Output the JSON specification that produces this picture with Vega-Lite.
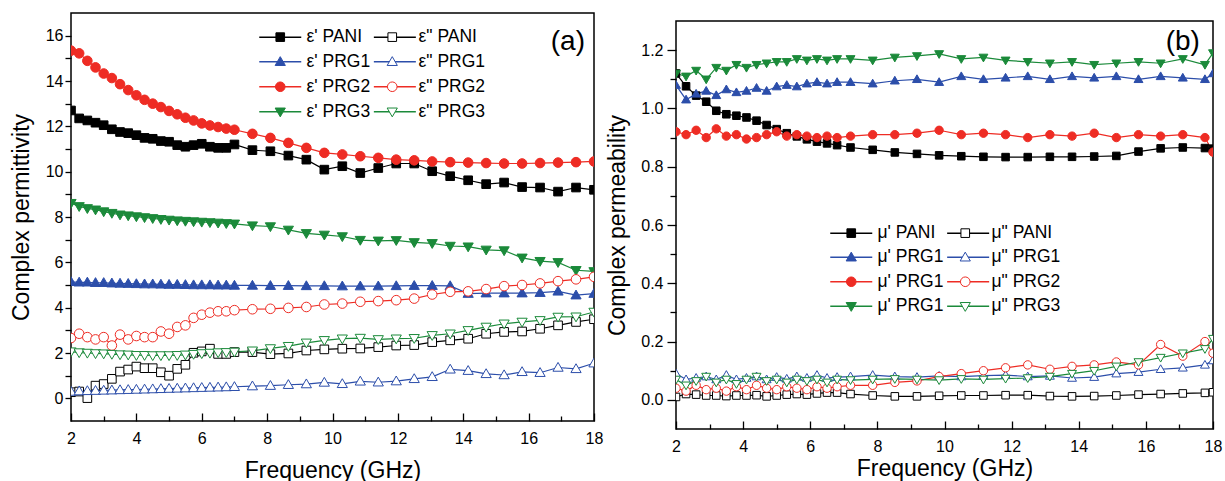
{
"$schema":"https://vega.github.io/schema/vega-lite/v6.json",
"background":"white",
"padding":{"left":9,"top":12,"right":5,"bottom":0},
"config":{
 "font":"Liberation Sans",
 "view":{"stroke":"black","strokeWidth":1.5},
 "axis":{"grid":false,"domain":false,"labelFontSize":16,"labelColor":"black","titleFontSize":23,"titleFontWeight":"normal","titleColor":"black","tickColor":"black","tickWidth":1.3,"labelFlush":false,"labelOverlap":false},
 "legend":{"labelFontSize":17.5,"labelColor":"black","padding":0}
},
"spacing":2,
"resolve":{"scale":{"color":"independent","stroke":"independent","fill":"independent","shape":"independent"}},
"hconcat":[
{
"width":523,"height":408,
"resolve":{"axis":{"x":"independent","y":"independent"}},
"layer":[
 {"data":{"name":"eps"},"mark":{"type":"line","strokeWidth":1.2,"clip":true},
  "encoding":{
   "x":{"field":"f","type":"quantitative","scale":{"domain":[2,18],"nice":false,"zero":false},
        "axis":{"orient":"bottom","title":"Frequency (GHz)","values":[2,4,6,8,10,12,14,16,18],"tickSize":-8,"labelPadding":17,"titlePadding":13}},
   "y":{"field":"v","type":"quantitative","scale":{"domain":[-1,17],"nice":false,"zero":false},
        "axis":{"orient":"left","title":"Complex permittivity","values":[0,1,2,3,4,5,6,7,8,9,10,11,12,13,14,15,16],"labelExpr":"datum.value % 2 == 0 ? datum.label : ''","tickSize":6,"labelPadding":2,"titlePadding":12}},
   "color":{"field":"s","type":"nominal","scale":{"domain":["ε' PANI","ε' PRG1","ε' PRG2","ε' PRG3","ε\" PANI","ε\" PRG1","ε\" PRG2","ε\" PRG3"],"range":["#000000","#2c4eaa","#ee2c24","#1b8a3a","#000000","#2c4eaa","#ee2c24","#1b8a3a"]},
     "legend":{"title":null,"orient":"none","legendX":188,"legendY":15,"columns":2,"columnPadding":63.6,"rowPadding":6,"symbolType":"M-3.5,0H3.5","symbolSize":144,"symbolStrokeWidth":1.5,"symbolOffset":12.5,"labelOffset":17.5,"labelExpr":"''"}}
  }},
 {"data":{"name":"eps"},"mark":{"type":"point","size":144,"strokeWidth":1,"opacity":1,"clip":true},
  "encoding":{
   "x":{"field":"f","type":"quantitative","axis":{"orient":"bottom","title":null,"values":[3,5,7,9,11,13,15,17],"tickSize":-5,"labels":false}},
   "y":{"field":"v","type":"quantitative","axis":null},
   "stroke":{"field":"s","type":"nominal","sort":null,"scale":{"range":["#000000","#2c4eaa","#ee2c24","#1b8a3a","#000000","#2c4eaa","#ee2c24","#1b8a3a"]}},
   "fill":{"field":"s","type":"nominal","sort":null,"scale":{"range":["#000000","#2c4eaa","#ee2c24","#1b8a3a","#ffffff","#ffffff","#ffffff","#ffffff"]}},
   "shape":{"field":"s","type":"nominal","sort":null,"scale":{"range":["M-0.72,-0.72H0.72V0.72H-0.72Z","M-0.85,0.62L0,-0.85L0.85,0.62Z","M-0.8,0A0.8,0.8,0,1,1,0.8,0A0.8,0.8,0,1,1,-0.8,0Z","M-0.85,-0.62L0,0.85L0.85,-0.62Z","M-0.72,-0.72H0.72V0.72H-0.72Z","M-0.85,0.62L0,-0.85L0.85,0.62Z","M-0.8,0A0.8,0.8,0,1,1,0.8,0A0.8,0.8,0,1,1,-0.8,0Z","M-0.85,-0.62L0,0.85L0.85,-0.62Z"]},
     "legend":{"title":null,"orient":"none","legendX":188,"legendY":15,"columns":2,"columnPadding":0,"rowPadding":6,"symbolSize":144,"symbolStrokeWidth":1,"symbolOffset":12.5,"labelOffset":17.5,"symbolOpacity":1}}
  }},
 {"data":{"values":[{"f":17.2,"v":15.7,"t":"(a)"}]},"mark":{"type":"text","fontSize":28,"align":"center","baseline":"middle","color":"black","font":"Liberation Sans"},
  "encoding":{"x":{"field":"f","type":"quantitative","axis":null},"y":{"field":"v","type":"quantitative","axis":null},"text":{"field":"t"}}}
]
},
{
"spacing":6,
"vconcat":[
{"width":10,"height":1,"data":{"values":[]},"mark":"text","encoding":{},"view":{"stroke":null}},
{
"width":537,"height":408,
"resolve":{"axis":{"x":"independent","y":"independent"}},
"layer":[
 {"data":{"name":"mu"},"mark":{"type":"line","strokeWidth":1.2,"clip":true},
  "encoding":{
   "x":{"field":"f","type":"quantitative","scale":{"domain":[2,18],"nice":false,"zero":false},
        "axis":{"orient":"bottom","title":"Frequency (GHz)","values":[2,4,6,8,10,12,14,16,18],"tickSize":-8,"labelPadding":17,"titlePadding":3}},
   "y":{"field":"v","type":"quantitative","scale":{"domain":[-0.1,1.3],"nice":false,"zero":false},
        "axis":{"orient":"left","title":"Complex permeability","values":[0,0.2,0.4,0.6,0.8,1.0,1.2],"format":".1f","tickSize":9,"labelPadding":4,"titlePadding":11}},
   "color":{"field":"s","type":"nominal","scale":{"domain":["μ' PANI","μ' PRG1","μ' PRG2","μ' PRG3","μ\" PANI","μ\" PRG1","μ\" PRG2","μ\" PRG3"],"range":["#000000","#2c4eaa","#ee2c24","#1b8a3a","#000000","#2c4eaa","#ee2c24","#1b8a3a"]},
     "legend":{"title":null,"orient":"none","legendX":154,"legendY":211,"columns":2,"columnPadding":65.9,"rowPadding":5.5,"symbolType":"M-3.5,0H3.5","symbolSize":144,"symbolStrokeWidth":1.5,"symbolOffset":12.5,"labelOffset":17.5,"labelExpr":"''"}}
  }},
 {"data":{"name":"mu"},"mark":{"type":"point","size":110,"strokeWidth":1,"opacity":1,"clip":true},
  "encoding":{
   "x":{"field":"f","type":"quantitative","axis":{"orient":"bottom","title":null,"values":[3,5,7,9,11,13,15,17],"tickSize":-5,"labels":false}},
   "y":{"field":"v","type":"quantitative","axis":{"orient":"left","title":null,"values":[0.1,0.3,0.5,0.7,0.9,1.1],"tickSize":6,"labels":false}},
   "stroke":{"field":"s","type":"nominal","sort":null,"scale":{"range":["#000000","#2c4eaa","#ee2c24","#1b8a3a","#000000","#2c4eaa","#ee2c24","#1b8a3a"]}},
   "fill":{"field":"s","type":"nominal","sort":null,"scale":{"range":["#000000","#2c4eaa","#ee2c24","#1b8a3a","#ffffff","#ffffff","#ffffff","#ffffff"]}},
   "shape":{"field":"s","type":"nominal","sort":null,"scale":{"range":["M-0.72,-0.72H0.72V0.72H-0.72Z","M-0.85,0.62L0,-0.85L0.85,0.62Z","M-0.8,0A0.8,0.8,0,1,1,0.8,0A0.8,0.8,0,1,1,-0.8,0Z","M-0.85,-0.62L0,0.85L0.85,-0.62Z","M-0.72,-0.72H0.72V0.72H-0.72Z","M-0.85,0.62L0,-0.85L0.85,0.62Z","M-0.8,0A0.8,0.8,0,1,1,0.8,0A0.8,0.8,0,1,1,-0.8,0Z","M-0.85,-0.62L0,0.85L0.85,-0.62Z"]},
     "legend":{"title":null,"orient":"none","legendX":154,"legendY":211,"columns":2,"columnPadding":0,"rowPadding":5.5,"symbolSize":144,"symbolStrokeWidth":1,"symbolOffset":12.5,"labelOffset":17.5,"symbolOpacity":1,
       "labelExpr":"datum.label == \"μ' PRG2\" || datum.label == \"μ' PRG3\" ? \"μ' PRG1\" : datum.label"}}
  }},
 {"data":{"values":[{"f":17.1,"v":1.227,"t":"(b)"}]},"mark":{"type":"text","fontSize":28,"align":"center","baseline":"middle","color":"black","font":"Liberation Sans"},
  "encoding":{"x":{"field":"f","type":"quantitative","axis":null},"y":{"field":"v","type":"quantitative","axis":null},"text":{"field":"t"}}}
]
}
]
}
],
"datasets":{
"eps":[
{"s":"ε' PANI","f":2,"v":12.7},{"s":"ε' PANI","f":2.25,"v":12.35},{"s":"ε' PANI","f":2.5,"v":12.26},{"s":"ε' PANI","f":2.75,"v":12.16},{"s":"ε' PANI","f":3,"v":12.05},{"s":"ε' PANI","f":3.25,"v":11.87},{"s":"ε' PANI","f":3.5,"v":11.75},{"s":"ε' PANI","f":3.75,"v":11.7},{"s":"ε' PANI","f":4,"v":11.61},{"s":"ε' PANI","f":4.25,"v":11.49},{"s":"ε' PANI","f":4.5,"v":11.45},{"s":"ε' PANI","f":4.75,"v":11.35},{"s":"ε' PANI","f":5,"v":11.32},{"s":"ε' PANI","f":5.25,"v":11.17},{"s":"ε' PANI","f":5.5,"v":11.1},{"s":"ε' PANI","f":5.75,"v":11.17},{"s":"ε' PANI","f":6,"v":11.23},{"s":"ε' PANI","f":6.25,"v":11.1},{"s":"ε' PANI","f":6.5,"v":11.05},{"s":"ε' PANI","f":6.75,"v":11.05},{"s":"ε' PANI","f":7,"v":11.2},{"s":"ε' PANI","f":7.55,"v":10.95},{"s":"ε' PANI","f":8.1,"v":10.9},{"s":"ε' PANI","f":8.65,"v":10.71},{"s":"ε' PANI","f":9.2,"v":10.53},{"s":"ε' PANI","f":9.75,"v":10.09},{"s":"ε' PANI","f":10.3,"v":10.24},{"s":"ε' PANI","f":10.85,"v":9.94},{"s":"ε' PANI","f":11.4,"v":10.16},{"s":"ε' PANI","f":11.95,"v":10.36},{"s":"ε' PANI","f":12.5,"v":10.36},{"s":"ε' PANI","f":13.05,"v":10.02},{"s":"ε' PANI","f":13.6,"v":9.8},{"s":"ε' PANI","f":14.15,"v":9.62},{"s":"ε' PANI","f":14.7,"v":9.45},{"s":"ε' PANI","f":15.25,"v":9.52},{"s":"ε' PANI","f":15.8,"v":9.32},{"s":"ε' PANI","f":16.35,"v":9.3},{"s":"ε' PANI","f":16.9,"v":9.12},{"s":"ε' PANI","f":17.45,"v":9.3},{"s":"ε' PANI","f":18,"v":9.2},
{"s":"ε' PRG1","f":2,"v":5.14},{"s":"ε' PRG1","f":2.25,"v":5.12},{"s":"ε' PRG1","f":2.5,"v":5.12},{"s":"ε' PRG1","f":2.75,"v":5.1},{"s":"ε' PRG1","f":3,"v":5.1},{"s":"ε' PRG1","f":3.25,"v":5.08},{"s":"ε' PRG1","f":3.5,"v":5.07},{"s":"ε' PRG1","f":3.75,"v":5.06},{"s":"ε' PRG1","f":4,"v":5.05},{"s":"ε' PRG1","f":4.25,"v":5.04},{"s":"ε' PRG1","f":4.5,"v":5.04},{"s":"ε' PRG1","f":4.75,"v":5.03},{"s":"ε' PRG1","f":5,"v":5.02},{"s":"ε' PRG1","f":5.25,"v":5.02},{"s":"ε' PRG1","f":5.5,"v":5.01},{"s":"ε' PRG1","f":5.75,"v":5.0},{"s":"ε' PRG1","f":6,"v":5.0},{"s":"ε' PRG1","f":6.25,"v":5.0},{"s":"ε' PRG1","f":6.5,"v":4.99},{"s":"ε' PRG1","f":6.75,"v":4.99},{"s":"ε' PRG1","f":7,"v":4.98},{"s":"ε' PRG1","f":7.55,"v":4.98},{"s":"ε' PRG1","f":8.1,"v":4.97},{"s":"ε' PRG1","f":8.65,"v":4.97},{"s":"ε' PRG1","f":9.2,"v":4.96},{"s":"ε' PRG1","f":9.75,"v":4.96},{"s":"ε' PRG1","f":10.3,"v":4.95},{"s":"ε' PRG1","f":10.85,"v":4.95},{"s":"ε' PRG1","f":11.4,"v":4.95},{"s":"ε' PRG1","f":11.95,"v":4.96},{"s":"ε' PRG1","f":12.5,"v":4.97},{"s":"ε' PRG1","f":13.05,"v":4.97},{"s":"ε' PRG1","f":13.6,"v":4.96},{"s":"ε' PRG1","f":14.15,"v":4.62},{"s":"ε' PRG1","f":14.7,"v":4.64},{"s":"ε' PRG1","f":15.25,"v":4.64},{"s":"ε' PRG1","f":15.8,"v":4.64},{"s":"ε' PRG1","f":16.35,"v":4.66},{"s":"ε' PRG1","f":16.9,"v":4.72},{"s":"ε' PRG1","f":17.45,"v":4.55},{"s":"ε' PRG1","f":18,"v":4.62},
{"s":"ε' PRG2","f":2,"v":15.34},{"s":"ε' PRG2","f":2.25,"v":15.22},{"s":"ε' PRG2","f":2.5,"v":14.89},{"s":"ε' PRG2","f":2.75,"v":14.6},{"s":"ε' PRG2","f":3,"v":14.33},{"s":"ε' PRG2","f":3.25,"v":14.13},{"s":"ε' PRG2","f":3.5,"v":13.86},{"s":"ε' PRG2","f":3.75,"v":13.6},{"s":"ε' PRG2","f":4,"v":13.37},{"s":"ε' PRG2","f":4.25,"v":13.17},{"s":"ε' PRG2","f":4.5,"v":13.0},{"s":"ε' PRG2","f":4.75,"v":12.85},{"s":"ε' PRG2","f":5,"v":12.68},{"s":"ε' PRG2","f":5.25,"v":12.53},{"s":"ε' PRG2","f":5.5,"v":12.38},{"s":"ε' PRG2","f":5.75,"v":12.26},{"s":"ε' PRG2","f":6,"v":12.13},{"s":"ε' PRG2","f":6.25,"v":12.04},{"s":"ε' PRG2","f":6.5,"v":11.97},{"s":"ε' PRG2","f":6.75,"v":11.9},{"s":"ε' PRG2","f":7,"v":11.85},{"s":"ε' PRG2","f":7.55,"v":11.67},{"s":"ε' PRG2","f":8.1,"v":11.49},{"s":"ε' PRG2","f":8.65,"v":11.27},{"s":"ε' PRG2","f":9.2,"v":11.05},{"s":"ε' PRG2","f":9.75,"v":10.83},{"s":"ε' PRG2","f":10.3,"v":10.76},{"s":"ε' PRG2","f":10.85,"v":10.68},{"s":"ε' PRG2","f":11.4,"v":10.61},{"s":"ε' PRG2","f":11.95,"v":10.53},{"s":"ε' PRG2","f":12.5,"v":10.5},{"s":"ε' PRG2","f":13.05,"v":10.45},{"s":"ε' PRG2","f":13.6,"v":10.42},{"s":"ε' PRG2","f":14.15,"v":10.4},{"s":"ε' PRG2","f":14.7,"v":10.38},{"s":"ε' PRG2","f":15.25,"v":10.36},{"s":"ε' PRG2","f":15.8,"v":10.36},{"s":"ε' PRG2","f":16.35,"v":10.38},{"s":"ε' PRG2","f":16.9,"v":10.4},{"s":"ε' PRG2","f":17.45,"v":10.42},{"s":"ε' PRG2","f":18,"v":10.45},
{"s":"ε' PRG3","f":2,"v":8.61},{"s":"ε' PRG3","f":2.25,"v":8.47},{"s":"ε' PRG3","f":2.5,"v":8.38},{"s":"ε' PRG3","f":2.75,"v":8.32},{"s":"ε' PRG3","f":3,"v":8.24},{"s":"ε' PRG3","f":3.25,"v":8.17},{"s":"ε' PRG3","f":3.5,"v":8.1},{"s":"ε' PRG3","f":3.75,"v":8.06},{"s":"ε' PRG3","f":4,"v":8.02},{"s":"ε' PRG3","f":4.25,"v":7.98},{"s":"ε' PRG3","f":4.5,"v":7.94},{"s":"ε' PRG3","f":4.75,"v":7.9},{"s":"ε' PRG3","f":5,"v":7.87},{"s":"ε' PRG3","f":5.25,"v":7.84},{"s":"ε' PRG3","f":5.5,"v":7.82},{"s":"ε' PRG3","f":5.75,"v":7.8},{"s":"ε' PRG3","f":6,"v":7.78},{"s":"ε' PRG3","f":6.25,"v":7.76},{"s":"ε' PRG3","f":6.5,"v":7.74},{"s":"ε' PRG3","f":6.75,"v":7.72},{"s":"ε' PRG3","f":7,"v":7.7},{"s":"ε' PRG3","f":7.55,"v":7.62},{"s":"ε' PRG3","f":8.1,"v":7.58},{"s":"ε' PRG3","f":8.65,"v":7.43},{"s":"ε' PRG3","f":9.2,"v":7.28},{"s":"ε' PRG3","f":9.75,"v":7.21},{"s":"ε' PRG3","f":10.3,"v":7.14},{"s":"ε' PRG3","f":10.85,"v":6.98},{"s":"ε' PRG3","f":11.4,"v":6.95},{"s":"ε' PRG3","f":11.95,"v":6.97},{"s":"ε' PRG3","f":12.5,"v":6.88},{"s":"ε' PRG3","f":13.05,"v":6.84},{"s":"ε' PRG3","f":13.6,"v":6.72},{"s":"ε' PRG3","f":14.15,"v":6.69},{"s":"ε' PRG3","f":14.7,"v":6.55},{"s":"ε' PRG3","f":15.25,"v":6.52},{"s":"ε' PRG3","f":15.8,"v":6.2},{"s":"ε' PRG3","f":16.35,"v":6.05},{"s":"ε' PRG3","f":16.9,"v":6.0},{"s":"ε' PRG3","f":17.45,"v":5.65},{"s":"ε' PRG3","f":18,"v":5.6},
{"s":"ε\" PANI","f":2,"v":0.27},{"s":"ε\" PANI","f":2.25,"v":0.3},{"s":"ε\" PANI","f":2.5,"v":0.01},{"s":"ε\" PANI","f":2.75,"v":0.56},{"s":"ε\" PANI","f":3,"v":0.63},{"s":"ε\" PANI","f":3.25,"v":0.86},{"s":"ε\" PANI","f":3.5,"v":1.18},{"s":"ε\" PANI","f":3.75,"v":1.27},{"s":"ε\" PANI","f":4,"v":1.4},{"s":"ε\" PANI","f":4.25,"v":1.33},{"s":"ε\" PANI","f":4.5,"v":1.33},{"s":"ε\" PANI","f":4.75,"v":1.15},{"s":"ε\" PANI","f":5,"v":1.0},{"s":"ε\" PANI","f":5.25,"v":1.3},{"s":"ε\" PANI","f":5.5,"v":1.48},{"s":"ε\" PANI","f":5.75,"v":2.01},{"s":"ε\" PANI","f":6,"v":2.07},{"s":"ε\" PANI","f":6.25,"v":2.19},{"s":"ε\" PANI","f":6.5,"v":1.96},{"s":"ε\" PANI","f":6.75,"v":1.96},{"s":"ε\" PANI","f":7,"v":2.04},{"s":"ε\" PANI","f":7.55,"v":2.04},{"s":"ε\" PANI","f":8.1,"v":1.95},{"s":"ε\" PANI","f":8.65,"v":1.98},{"s":"ε\" PANI","f":9.2,"v":2.11},{"s":"ε\" PANI","f":9.75,"v":2.16},{"s":"ε\" PANI","f":10.3,"v":2.19},{"s":"ε\" PANI","f":10.85,"v":2.2},{"s":"ε\" PANI","f":11.4,"v":2.26},{"s":"ε\" PANI","f":11.95,"v":2.33},{"s":"ε\" PANI","f":12.5,"v":2.35},{"s":"ε\" PANI","f":13.05,"v":2.48},{"s":"ε\" PANI","f":13.6,"v":2.56},{"s":"ε\" PANI","f":14.15,"v":2.63},{"s":"ε\" PANI","f":14.7,"v":2.85},{"s":"ε\" PANI","f":15.25,"v":2.93},{"s":"ε\" PANI","f":15.8,"v":2.95},{"s":"ε\" PANI","f":16.35,"v":3.07},{"s":"ε\" PANI","f":16.9,"v":3.22},{"s":"ε\" PANI","f":17.45,"v":3.37},{"s":"ε\" PANI","f":18,"v":3.49},
{"s":"ε\" PRG1","f":2,"v":0.3},{"s":"ε\" PRG1","f":2.25,"v":0.32},{"s":"ε\" PRG1","f":2.5,"v":0.33},{"s":"ε\" PRG1","f":2.75,"v":0.34},{"s":"ε\" PRG1","f":3,"v":0.35},{"s":"ε\" PRG1","f":3.25,"v":0.36},{"s":"ε\" PRG1","f":3.5,"v":0.37},{"s":"ε\" PRG1","f":3.75,"v":0.38},{"s":"ε\" PRG1","f":4,"v":0.39},{"s":"ε\" PRG1","f":4.25,"v":0.4},{"s":"ε\" PRG1","f":4.5,"v":0.41},{"s":"ε\" PRG1","f":4.75,"v":0.42},{"s":"ε\" PRG1","f":5,"v":0.43},{"s":"ε\" PRG1","f":5.25,"v":0.44},{"s":"ε\" PRG1","f":5.5,"v":0.45},{"s":"ε\" PRG1","f":5.75,"v":0.46},{"s":"ε\" PRG1","f":6,"v":0.47},{"s":"ε\" PRG1","f":6.25,"v":0.48},{"s":"ε\" PRG1","f":6.5,"v":0.49},{"s":"ε\" PRG1","f":6.75,"v":0.5},{"s":"ε\" PRG1","f":7,"v":0.51},{"s":"ε\" PRG1","f":7.55,"v":0.54},{"s":"ε\" PRG1","f":8.1,"v":0.56},{"s":"ε\" PRG1","f":8.65,"v":0.6},{"s":"ε\" PRG1","f":9.2,"v":0.63},{"s":"ε\" PRG1","f":9.75,"v":0.7},{"s":"ε\" PRG1","f":10.3,"v":0.64},{"s":"ε\" PRG1","f":10.85,"v":0.75},{"s":"ε\" PRG1","f":11.4,"v":0.71},{"s":"ε\" PRG1","f":11.95,"v":0.76},{"s":"ε\" PRG1","f":12.5,"v":0.86},{"s":"ε\" PRG1","f":13.05,"v":0.95},{"s":"ε\" PRG1","f":13.6,"v":1.28},{"s":"ε\" PRG1","f":14.15,"v":1.22},{"s":"ε\" PRG1","f":14.7,"v":1.08},{"s":"ε\" PRG1","f":15.25,"v":1.03},{"s":"ε\" PRG1","f":15.8,"v":1.17},{"s":"ε\" PRG1","f":16.35,"v":1.13},{"s":"ε\" PRG1","f":16.9,"v":1.36},{"s":"ε\" PRG1","f":17.45,"v":1.3},{"s":"ε\" PRG1","f":18,"v":1.55},
{"s":"ε\" PRG2","f":2,"v":2.66},{"s":"ε\" PRG2","f":2.25,"v":2.85},{"s":"ε\" PRG2","f":2.5,"v":2.7},{"s":"ε\" PRG2","f":2.75,"v":2.6},{"s":"ε\" PRG2","f":3,"v":2.7},{"s":"ε\" PRG2","f":3.25,"v":2.33},{"s":"ε\" PRG2","f":3.5,"v":2.81},{"s":"ε\" PRG2","f":3.75,"v":2.6},{"s":"ε\" PRG2","f":4,"v":2.75},{"s":"ε\" PRG2","f":4.25,"v":2.7},{"s":"ε\" PRG2","f":4.5,"v":2.7},{"s":"ε\" PRG2","f":4.75,"v":2.95},{"s":"ε\" PRG2","f":5,"v":2.85},{"s":"ε\" PRG2","f":5.25,"v":3.15},{"s":"ε\" PRG2","f":5.5,"v":3.22},{"s":"ε\" PRG2","f":5.75,"v":3.55},{"s":"ε\" PRG2","f":6,"v":3.69},{"s":"ε\" PRG2","f":6.25,"v":3.78},{"s":"ε\" PRG2","f":6.5,"v":3.84},{"s":"ε\" PRG2","f":6.75,"v":3.84},{"s":"ε\" PRG2","f":7,"v":3.89},{"s":"ε\" PRG2","f":7.55,"v":3.93},{"s":"ε\" PRG2","f":8.1,"v":3.95},{"s":"ε\" PRG2","f":8.65,"v":3.99},{"s":"ε\" PRG2","f":9.2,"v":4.03},{"s":"ε\" PRG2","f":9.75,"v":4.14},{"s":"ε\" PRG2","f":10.3,"v":4.18},{"s":"ε\" PRG2","f":10.85,"v":4.26},{"s":"ε\" PRG2","f":11.4,"v":4.29},{"s":"ε\" PRG2","f":11.95,"v":4.33},{"s":"ε\" PRG2","f":12.5,"v":4.4},{"s":"ε\" PRG2","f":13.05,"v":4.58},{"s":"ε\" PRG2","f":13.6,"v":4.7},{"s":"ε\" PRG2","f":14.15,"v":4.72},{"s":"ε\" PRG2","f":14.7,"v":4.82},{"s":"ε\" PRG2","f":15.25,"v":4.95},{"s":"ε\" PRG2","f":15.8,"v":5.0},{"s":"ε\" PRG2","f":16.35,"v":5.07},{"s":"ε\" PRG2","f":16.9,"v":5.17},{"s":"ε\" PRG2","f":17.45,"v":5.25},{"s":"ε\" PRG2","f":18,"v":5.36},
{"s":"ε\" PRG3","f":2,"v":2.06},{"s":"ε\" PRG3","f":2.25,"v":2.02},{"s":"ε\" PRG3","f":2.5,"v":2.0},{"s":"ε\" PRG3","f":2.75,"v":1.98},{"s":"ε\" PRG3","f":3,"v":1.97},{"s":"ε\" PRG3","f":3.25,"v":1.95},{"s":"ε\" PRG3","f":3.5,"v":1.93},{"s":"ε\" PRG3","f":3.75,"v":1.92},{"s":"ε\" PRG3","f":4,"v":1.9},{"s":"ε\" PRG3","f":4.25,"v":1.9},{"s":"ε\" PRG3","f":4.5,"v":1.89},{"s":"ε\" PRG3","f":4.75,"v":1.89},{"s":"ε\" PRG3","f":5,"v":1.89},{"s":"ε\" PRG3","f":5.25,"v":1.9},{"s":"ε\" PRG3","f":5.5,"v":1.92},{"s":"ε\" PRG3","f":5.75,"v":1.95},{"s":"ε\" PRG3","f":6,"v":1.98},{"s":"ε\" PRG3","f":6.25,"v":2.0},{"s":"ε\" PRG3","f":6.5,"v":2.02},{"s":"ε\" PRG3","f":6.75,"v":2.03},{"s":"ε\" PRG3","f":7,"v":2.05},{"s":"ε\" PRG3","f":7.55,"v":2.1},{"s":"ε\" PRG3","f":8.1,"v":2.2},{"s":"ε\" PRG3","f":8.65,"v":2.3},{"s":"ε\" PRG3","f":9.2,"v":2.45},{"s":"ε\" PRG3","f":9.75,"v":2.56},{"s":"ε\" PRG3","f":10.3,"v":2.63},{"s":"ε\" PRG3","f":10.85,"v":2.66},{"s":"ε\" PRG3","f":11.4,"v":2.6},{"s":"ε\" PRG3","f":11.95,"v":2.63},{"s":"ε\" PRG3","f":12.5,"v":2.65},{"s":"ε\" PRG3","f":13.05,"v":2.78},{"s":"ε\" PRG3","f":13.6,"v":2.85},{"s":"ε\" PRG3","f":14.15,"v":3.0},{"s":"ε\" PRG3","f":14.7,"v":3.15},{"s":"ε\" PRG3","f":15.25,"v":3.29},{"s":"ε\" PRG3","f":15.8,"v":3.37},{"s":"ε\" PRG3","f":16.35,"v":3.44},{"s":"ε\" PRG3","f":16.9,"v":3.59},{"s":"ε\" PRG3","f":17.45,"v":3.6},{"s":"ε\" PRG3","f":18,"v":3.81}
],
"mu":[
{"s":"μ' PANI","f":2,"v":1.12},{"s":"μ' PANI","f":2.3,"v":1.076},{"s":"μ' PANI","f":2.6,"v":1.044},{"s":"μ' PANI","f":2.9,"v":1.023},{"s":"μ' PANI","f":3.2,"v":0.992},{"s":"μ' PANI","f":3.5,"v":0.98},{"s":"μ' PANI","f":3.8,"v":0.975},{"s":"μ' PANI","f":4.1,"v":0.969},{"s":"μ' PANI","f":4.4,"v":0.958},{"s":"μ' PANI","f":4.7,"v":0.943},{"s":"μ' PANI","f":5,"v":0.929},{"s":"μ' PANI","f":5.3,"v":0.915},{"s":"μ' PANI","f":5.6,"v":0.904},{"s":"μ' PANI","f":5.9,"v":0.894},{"s":"μ' PANI","f":6.2,"v":0.886},{"s":"μ' PANI","f":6.5,"v":0.88},{"s":"μ' PANI","f":6.8,"v":0.874},{"s":"μ' PANI","f":7.2,"v":0.866},{"s":"μ' PANI","f":7.86,"v":0.858},{"s":"μ' PANI","f":8.52,"v":0.849},{"s":"μ' PANI","f":9.18,"v":0.844},{"s":"μ' PANI","f":9.84,"v":0.839},{"s":"μ' PANI","f":10.5,"v":0.836},{"s":"μ' PANI","f":11.16,"v":0.834},{"s":"μ' PANI","f":11.82,"v":0.833},{"s":"μ' PANI","f":12.48,"v":0.833},{"s":"μ' PANI","f":13.14,"v":0.834},{"s":"μ' PANI","f":13.8,"v":0.834},{"s":"μ' PANI","f":14.46,"v":0.835},{"s":"μ' PANI","f":15.12,"v":0.837},{"s":"μ' PANI","f":15.78,"v":0.852},{"s":"μ' PANI","f":16.44,"v":0.863},{"s":"μ' PANI","f":17.1,"v":0.866},{"s":"μ' PANI","f":17.76,"v":0.864},{"s":"μ' PANI","f":18,"v":0.862},
{"s":"μ' PRG1","f":2,"v":1.08},{"s":"μ' PRG1","f":2.3,"v":1.03},{"s":"μ' PRG1","f":2.6,"v":1.05},{"s":"μ' PRG1","f":2.9,"v":1.06},{"s":"μ' PRG1","f":3.2,"v":1.045},{"s":"μ' PRG1","f":3.5,"v":1.065},{"s":"μ' PRG1","f":3.8,"v":1.055},{"s":"μ' PRG1","f":4.1,"v":1.06},{"s":"μ' PRG1","f":4.4,"v":1.07},{"s":"μ' PRG1","f":4.7,"v":1.06},{"s":"μ' PRG1","f":5,"v":1.075},{"s":"μ' PRG1","f":5.3,"v":1.08},{"s":"μ' PRG1","f":5.6,"v":1.075},{"s":"μ' PRG1","f":5.9,"v":1.085},{"s":"μ' PRG1","f":6.2,"v":1.09},{"s":"μ' PRG1","f":6.5,"v":1.085},{"s":"μ' PRG1","f":6.8,"v":1.09},{"s":"μ' PRG1","f":7.2,"v":1.09},{"s":"μ' PRG1","f":7.86,"v":1.085},{"s":"μ' PRG1","f":8.52,"v":1.095},{"s":"μ' PRG1","f":9.18,"v":1.1},{"s":"μ' PRG1","f":9.84,"v":1.09},{"s":"μ' PRG1","f":10.5,"v":1.11},{"s":"μ' PRG1","f":11.16,"v":1.1},{"s":"μ' PRG1","f":11.82,"v":1.105},{"s":"μ' PRG1","f":12.48,"v":1.11},{"s":"μ' PRG1","f":13.14,"v":1.1},{"s":"μ' PRG1","f":13.8,"v":1.11},{"s":"μ' PRG1","f":14.46,"v":1.105},{"s":"μ' PRG1","f":15.12,"v":1.11},{"s":"μ' PRG1","f":15.78,"v":1.1},{"s":"μ' PRG1","f":16.44,"v":1.11},{"s":"μ' PRG1","f":17.1,"v":1.105},{"s":"μ' PRG1","f":17.76,"v":1.1},{"s":"μ' PRG1","f":18,"v":1.12},
{"s":"μ' PRG2","f":2,"v":0.92},{"s":"μ' PRG2","f":2.3,"v":0.91},{"s":"μ' PRG2","f":2.6,"v":0.925},{"s":"μ' PRG2","f":2.9,"v":0.9},{"s":"μ' PRG2","f":3.2,"v":0.93},{"s":"μ' PRG2","f":3.5,"v":0.905},{"s":"μ' PRG2","f":3.8,"v":0.91},{"s":"μ' PRG2","f":4.1,"v":0.895},{"s":"μ' PRG2","f":4.4,"v":0.9},{"s":"μ' PRG2","f":4.7,"v":0.91},{"s":"μ' PRG2","f":5,"v":0.92},{"s":"μ' PRG2","f":5.3,"v":0.905},{"s":"μ' PRG2","f":5.6,"v":0.91},{"s":"μ' PRG2","f":5.9,"v":0.905},{"s":"μ' PRG2","f":6.2,"v":0.9},{"s":"μ' PRG2","f":6.5,"v":0.905},{"s":"μ' PRG2","f":6.8,"v":0.9},{"s":"μ' PRG2","f":7.2,"v":0.905},{"s":"μ' PRG2","f":7.86,"v":0.91},{"s":"μ' PRG2","f":8.52,"v":0.91},{"s":"μ' PRG2","f":9.18,"v":0.915},{"s":"μ' PRG2","f":9.84,"v":0.925},{"s":"μ' PRG2","f":10.5,"v":0.91},{"s":"μ' PRG2","f":11.16,"v":0.915},{"s":"μ' PRG2","f":11.82,"v":0.91},{"s":"μ' PRG2","f":12.48,"v":0.9},{"s":"μ' PRG2","f":13.14,"v":0.91},{"s":"μ' PRG2","f":13.8,"v":0.905},{"s":"μ' PRG2","f":14.46,"v":0.915},{"s":"μ' PRG2","f":15.12,"v":0.9},{"s":"μ' PRG2","f":15.78,"v":0.91},{"s":"μ' PRG2","f":16.44,"v":0.905},{"s":"μ' PRG2","f":17.1,"v":0.91},{"s":"μ' PRG2","f":17.76,"v":0.9},{"s":"μ' PRG2","f":18,"v":0.85},
{"s":"μ' PRG3","f":2,"v":1.12},{"s":"μ' PRG3","f":2.3,"v":1.11},{"s":"μ' PRG3","f":2.6,"v":1.13},{"s":"μ' PRG3","f":2.9,"v":1.1},{"s":"μ' PRG3","f":3.2,"v":1.14},{"s":"μ' PRG3","f":3.5,"v":1.13},{"s":"μ' PRG3","f":3.8,"v":1.15},{"s":"μ' PRG3","f":4.1,"v":1.14},{"s":"μ' PRG3","f":4.4,"v":1.15},{"s":"μ' PRG3","f":4.7,"v":1.155},{"s":"μ' PRG3","f":5,"v":1.16},{"s":"μ' PRG3","f":5.3,"v":1.16},{"s":"μ' PRG3","f":5.6,"v":1.17},{"s":"μ' PRG3","f":5.9,"v":1.165},{"s":"μ' PRG3","f":6.2,"v":1.17},{"s":"μ' PRG3","f":6.5,"v":1.165},{"s":"μ' PRG3","f":6.8,"v":1.17},{"s":"μ' PRG3","f":7.2,"v":1.17},{"s":"μ' PRG3","f":7.86,"v":1.165},{"s":"μ' PRG3","f":8.52,"v":1.175},{"s":"μ' PRG3","f":9.18,"v":1.18},{"s":"μ' PRG3","f":9.84,"v":1.187},{"s":"μ' PRG3","f":10.5,"v":1.17},{"s":"μ' PRG3","f":11.16,"v":1.175},{"s":"μ' PRG3","f":11.82,"v":1.165},{"s":"μ' PRG3","f":12.48,"v":1.16},{"s":"μ' PRG3","f":13.14,"v":1.155},{"s":"μ' PRG3","f":13.8,"v":1.16},{"s":"μ' PRG3","f":14.46,"v":1.15},{"s":"μ' PRG3","f":15.12,"v":1.155},{"s":"μ' PRG3","f":15.78,"v":1.16},{"s":"μ' PRG3","f":16.44,"v":1.155},{"s":"μ' PRG3","f":17.1,"v":1.17},{"s":"μ' PRG3","f":17.76,"v":1.15},{"s":"μ' PRG3","f":18,"v":1.19},
{"s":"μ\" PANI","f":2,"v":0.01},{"s":"μ\" PANI","f":2.3,"v":0.02},{"s":"μ\" PANI","f":2.6,"v":0.018},{"s":"μ\" PANI","f":2.9,"v":0.015},{"s":"μ\" PANI","f":3.2,"v":0.015},{"s":"μ\" PANI","f":3.5,"v":0.013},{"s":"μ\" PANI","f":3.8,"v":0.015},{"s":"μ\" PANI","f":4.1,"v":0.015},{"s":"μ\" PANI","f":4.4,"v":0.016},{"s":"μ\" PANI","f":4.7,"v":0.012},{"s":"μ\" PANI","f":5,"v":0.015},{"s":"μ\" PANI","f":5.3,"v":0.018},{"s":"μ\" PANI","f":5.6,"v":0.02},{"s":"μ\" PANI","f":5.9,"v":0.018},{"s":"μ\" PANI","f":6.2,"v":0.022},{"s":"μ\" PANI","f":6.5,"v":0.025},{"s":"μ\" PANI","f":6.8,"v":0.025},{"s":"μ\" PANI","f":7.2,"v":0.02},{"s":"μ\" PANI","f":7.86,"v":0.015},{"s":"μ\" PANI","f":8.52,"v":0.012},{"s":"μ\" PANI","f":9.18,"v":0.012},{"s":"μ\" PANI","f":9.84,"v":0.014},{"s":"μ\" PANI","f":10.5,"v":0.015},{"s":"μ\" PANI","f":11.16,"v":0.015},{"s":"μ\" PANI","f":11.82,"v":0.016},{"s":"μ\" PANI","f":12.48,"v":0.016},{"s":"μ\" PANI","f":13.14,"v":0.013},{"s":"μ\" PANI","f":13.8,"v":0.012},{"s":"μ\" PANI","f":14.46,"v":0.013},{"s":"μ\" PANI","f":15.12,"v":0.015},{"s":"μ\" PANI","f":15.78,"v":0.018},{"s":"μ\" PANI","f":16.44,"v":0.02},{"s":"μ\" PANI","f":17.1,"v":0.022},{"s":"μ\" PANI","f":17.76,"v":0.024},{"s":"μ\" PANI","f":18,"v":0.026},
{"s":"μ\" PRG1","f":2,"v":0.09},{"s":"μ\" PRG1","f":2.3,"v":0.07},{"s":"μ\" PRG1","f":2.6,"v":0.075},{"s":"μ\" PRG1","f":2.9,"v":0.08},{"s":"μ\" PRG1","f":3.2,"v":0.07},{"s":"μ\" PRG1","f":3.5,"v":0.085},{"s":"μ\" PRG1","f":3.8,"v":0.07},{"s":"μ\" PRG1","f":4.1,"v":0.075},{"s":"μ\" PRG1","f":4.4,"v":0.08},{"s":"μ\" PRG1","f":4.7,"v":0.07},{"s":"μ\" PRG1","f":5,"v":0.078},{"s":"μ\" PRG1","f":5.3,"v":0.072},{"s":"μ\" PRG1","f":5.6,"v":0.08},{"s":"μ\" PRG1","f":5.9,"v":0.075},{"s":"μ\" PRG1","f":6.2,"v":0.085},{"s":"μ\" PRG1","f":6.5,"v":0.075},{"s":"μ\" PRG1","f":6.8,"v":0.078},{"s":"μ\" PRG1","f":7.2,"v":0.08},{"s":"μ\" PRG1","f":7.86,"v":0.085},{"s":"μ\" PRG1","f":8.52,"v":0.08},{"s":"μ\" PRG1","f":9.18,"v":0.078},{"s":"μ\" PRG1","f":9.84,"v":0.082},{"s":"μ\" PRG1","f":10.5,"v":0.08},{"s":"μ\" PRG1","f":11.16,"v":0.083},{"s":"μ\" PRG1","f":11.82,"v":0.085},{"s":"μ\" PRG1","f":12.48,"v":0.08},{"s":"μ\" PRG1","f":13.14,"v":0.082},{"s":"μ\" PRG1","f":13.8,"v":0.075},{"s":"μ\" PRG1","f":14.46,"v":0.078},{"s":"μ\" PRG1","f":15.12,"v":0.09},{"s":"μ\" PRG1","f":15.78,"v":0.095},{"s":"μ\" PRG1","f":16.44,"v":0.105},{"s":"μ\" PRG1","f":17.1,"v":0.11},{"s":"μ\" PRG1","f":17.76,"v":0.12},{"s":"μ\" PRG1","f":18,"v":0.135},
{"s":"μ\" PRG2","f":2,"v":0.04},{"s":"μ\" PRG2","f":2.3,"v":0.03},{"s":"μ\" PRG2","f":2.6,"v":0.05},{"s":"μ\" PRG2","f":2.9,"v":0.035},{"s":"μ\" PRG2","f":3.2,"v":0.04},{"s":"μ\" PRG2","f":3.5,"v":0.03},{"s":"μ\" PRG2","f":3.8,"v":0.045},{"s":"μ\" PRG2","f":4.1,"v":0.035},{"s":"μ\" PRG2","f":4.4,"v":0.05},{"s":"μ\" PRG2","f":4.7,"v":0.04},{"s":"μ\" PRG2","f":5,"v":0.035},{"s":"μ\" PRG2","f":5.3,"v":0.045},{"s":"μ\" PRG2","f":5.6,"v":0.04},{"s":"μ\" PRG2","f":5.9,"v":0.035},{"s":"μ\" PRG2","f":6.2,"v":0.045},{"s":"μ\" PRG2","f":6.5,"v":0.04},{"s":"μ\" PRG2","f":6.8,"v":0.045},{"s":"μ\" PRG2","f":7.2,"v":0.05},{"s":"μ\" PRG2","f":7.86,"v":0.05},{"s":"μ\" PRG2","f":8.52,"v":0.06},{"s":"μ\" PRG2","f":9.18,"v":0.065},{"s":"μ\" PRG2","f":9.84,"v":0.08},{"s":"μ\" PRG2","f":10.5,"v":0.09},{"s":"μ\" PRG2","f":11.16,"v":0.1},{"s":"μ\" PRG2","f":11.82,"v":0.11},{"s":"μ\" PRG2","f":12.48,"v":0.12},{"s":"μ\" PRG2","f":13.14,"v":0.105},{"s":"μ\" PRG2","f":13.8,"v":0.115},{"s":"μ\" PRG2","f":14.46,"v":0.12},{"s":"μ\" PRG2","f":15.12,"v":0.13},{"s":"μ\" PRG2","f":15.78,"v":0.12},{"s":"μ\" PRG2","f":16.44,"v":0.19},{"s":"μ\" PRG2","f":17.1,"v":0.15},{"s":"μ\" PRG2","f":17.76,"v":0.2},{"s":"μ\" PRG2","f":18,"v":0.16},
{"s":"μ\" PRG3","f":2,"v":0.07},{"s":"μ\" PRG3","f":2.3,"v":0.05},{"s":"μ\" PRG3","f":2.6,"v":0.065},{"s":"μ\" PRG3","f":2.9,"v":0.08},{"s":"μ\" PRG3","f":3.2,"v":0.06},{"s":"μ\" PRG3","f":3.5,"v":0.07},{"s":"μ\" PRG3","f":3.8,"v":0.055},{"s":"μ\" PRG3","f":4.1,"v":0.07},{"s":"μ\" PRG3","f":4.4,"v":0.08},{"s":"μ\" PRG3","f":4.7,"v":0.065},{"s":"μ\" PRG3","f":5,"v":0.07},{"s":"μ\" PRG3","f":5.3,"v":0.06},{"s":"μ\" PRG3","f":5.6,"v":0.07},{"s":"μ\" PRG3","f":5.9,"v":0.065},{"s":"μ\" PRG3","f":6.2,"v":0.07},{"s":"μ\" PRG3","f":6.5,"v":0.06},{"s":"μ\" PRG3","f":6.8,"v":0.07},{"s":"μ\" PRG3","f":7.2,"v":0.068},{"s":"μ\" PRG3","f":7.86,"v":0.07},{"s":"μ\" PRG3","f":8.52,"v":0.072},{"s":"μ\" PRG3","f":9.18,"v":0.07},{"s":"μ\" PRG3","f":9.84,"v":0.068},{"s":"μ\" PRG3","f":10.5,"v":0.072},{"s":"μ\" PRG3","f":11.16,"v":0.07},{"s":"μ\" PRG3","f":11.82,"v":0.073},{"s":"μ\" PRG3","f":12.48,"v":0.075},{"s":"μ\" PRG3","f":13.14,"v":0.08},{"s":"μ\" PRG3","f":13.8,"v":0.09},{"s":"μ\" PRG3","f":14.46,"v":0.1},{"s":"μ\" PRG3","f":15.12,"v":0.115},{"s":"μ\" PRG3","f":15.78,"v":0.13},{"s":"μ\" PRG3","f":16.44,"v":0.145},{"s":"μ\" PRG3","f":17.1,"v":0.16},{"s":"μ\" PRG3","f":17.76,"v":0.175},{"s":"μ\" PRG3","f":18,"v":0.21}
]
}
}
